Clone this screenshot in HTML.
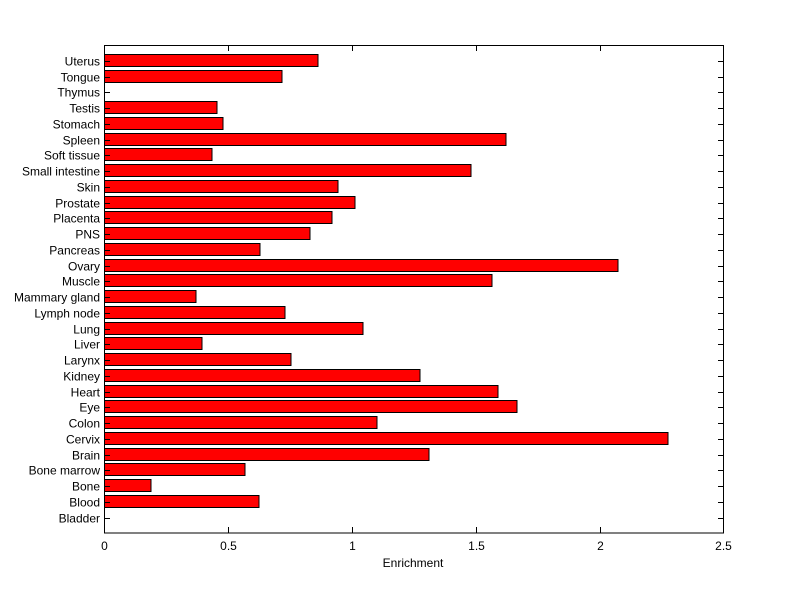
<!DOCTYPE html>
<html><head><style>body{margin:0;background:#fff}svg{display:block}text{font-family:"Liberation Sans",sans-serif;font-size:12px;fill:#000}</style></head>
<body>
<svg width="800" height="599" xmlns="http://www.w3.org/2000/svg">
<rect width="800" height="599" fill="#fff"/>
<g fill="#ff0000" stroke="#000" stroke-width="1">
<rect x="104.5" y="495.5" width="154.5" height="12"/>
<rect x="104.5" y="479.5" width="46.5" height="12"/>
<rect x="104.5" y="463.5" width="140.5" height="12"/>
<rect x="104.5" y="448.5" width="324.5" height="12"/>
<rect x="104.5" y="432.5" width="563.5" height="12"/>
<rect x="104.5" y="416.5" width="272.5" height="12"/>
<rect x="104.5" y="400.5" width="412.5" height="12"/>
<rect x="104.5" y="385.5" width="393.5" height="12"/>
<rect x="104.5" y="369.5" width="315.5" height="12"/>
<rect x="104.5" y="353.5" width="186.5" height="12"/>
<rect x="104.5" y="337.5" width="97.5" height="12"/>
<rect x="104.5" y="322.5" width="258.5" height="12"/>
<rect x="104.5" y="306.5" width="180.5" height="12"/>
<rect x="104.5" y="290.5" width="91.5" height="12"/>
<rect x="104.5" y="274.5" width="387.5" height="12"/>
<rect x="104.5" y="259.5" width="513.5" height="12"/>
<rect x="104.5" y="243.5" width="155.5" height="12"/>
<rect x="104.5" y="227.5" width="205.5" height="12"/>
<rect x="104.5" y="211.5" width="227.5" height="12"/>
<rect x="104.5" y="196.5" width="250.5" height="12"/>
<rect x="104.5" y="180.5" width="233.5" height="12"/>
<rect x="104.5" y="164.5" width="366.5" height="12"/>
<rect x="104.5" y="148.5" width="107.5" height="12"/>
<rect x="104.5" y="133.5" width="401.5" height="12"/>
<rect x="104.5" y="117.5" width="118.5" height="12"/>
<rect x="104.5" y="101.5" width="112.5" height="12"/>
<rect x="104.5" y="70.5" width="177.5" height="12"/>
<rect x="104.5" y="54.5" width="213.5" height="12"/>
</g>
<rect x="104.5" y="45.5" width="619" height="487.5" fill="none" stroke="#000"/>
<path stroke="#000" fill="none" d="
M104 518.5h6M718 518.5h6 M104 502.5h6M718 502.5h6 M104 486.5h6M718 486.5h6 M104 470.5h6M718 470.5h6
M104 455.5h6M718 455.5h6 M104 439.5h6M718 439.5h6 M104 423.5h6M718 423.5h6 M104 407.5h6M718 407.5h6
M104 392.5h6M718 392.5h6 M104 376.5h6M718 376.5h6 M104 360.5h6M718 360.5h6 M104 344.5h6M718 344.5h6
M104 329.5h6M718 329.5h6 M104 313.5h6M718 313.5h6 M104 297.5h6M718 297.5h6 M104 281.5h6M718 281.5h6
M104 266.5h6M718 266.5h6 M104 250.5h6M718 250.5h6 M104 234.5h6M718 234.5h6 M104 218.5h6M718 218.5h6
M104 203.5h6M718 203.5h6 M104 187.5h6M718 187.5h6 M104 171.5h6M718 171.5h6 M104 155.5h6M718 155.5h6
M104 140.5h6M718 140.5h6 M104 124.5h6M718 124.5h6 M104 108.5h6M718 108.5h6 M104 92.5h6M718 92.5h6
M104 77.5h6M718 77.5h6 M104 61.5h6M718 61.5h6
M228.5 533v-6M228.5 45v6 M352.5 533v-6M352.5 45v6 M476.5 533v-6M476.5 45v6 M600.5 533v-6M600.5 45v6"/>
<g text-anchor="end">
<text x="100" y="522.5">Bladder</text>
<text x="100" y="506.5">Blood</text>
<text x="100" y="490.5">Bone</text>
<text x="100" y="474.5">Bone marrow</text>
<text x="100" y="459.5">Brain</text>
<text x="100" y="443.5">Cervix</text>
<text x="100" y="427.5">Colon</text>
<text x="100" y="411.5">Eye</text>
<text x="100" y="396.5">Heart</text>
<text x="100" y="380.5">Kidney</text>
<text x="100" y="364.5">Larynx</text>
<text x="100" y="348.5">Liver</text>
<text x="100" y="333.5">Lung</text>
<text x="100" y="317.5">Lymph node</text>
<text x="100" y="301.5">Mammary gland</text>
<text x="100" y="285.5">Muscle</text>
<text x="100" y="270.5">Ovary</text>
<text x="100" y="254.5">Pancreas</text>
<text x="100" y="238.5">PNS</text>
<text x="100" y="222.5">Placenta</text>
<text x="100" y="207.5">Prostate</text>
<text x="100" y="191.5">Skin</text>
<text x="100" y="175.5">Small intestine</text>
<text x="100" y="159.5">Soft tissue</text>
<text x="100" y="144.5">Spleen</text>
<text x="100" y="128.5">Stomach</text>
<text x="100" y="112.5">Testis</text>
<text x="100" y="96.5">Thymus</text>
<text x="100" y="81.5">Tongue</text>
<text x="100" y="65.5">Uterus</text>
</g>
<g text-anchor="middle">
<text x="104.5" y="550">0</text>
<text x="228.5" y="550">0.5</text>
<text x="352.5" y="550">1</text>
<text x="476.5" y="550">1.5</text>
<text x="600.5" y="550">2</text>
<text x="723.5" y="550">2.5</text>
</g>
<text x="413" y="567" text-anchor="middle">Enrichment</text>
</svg>
</body></html>
